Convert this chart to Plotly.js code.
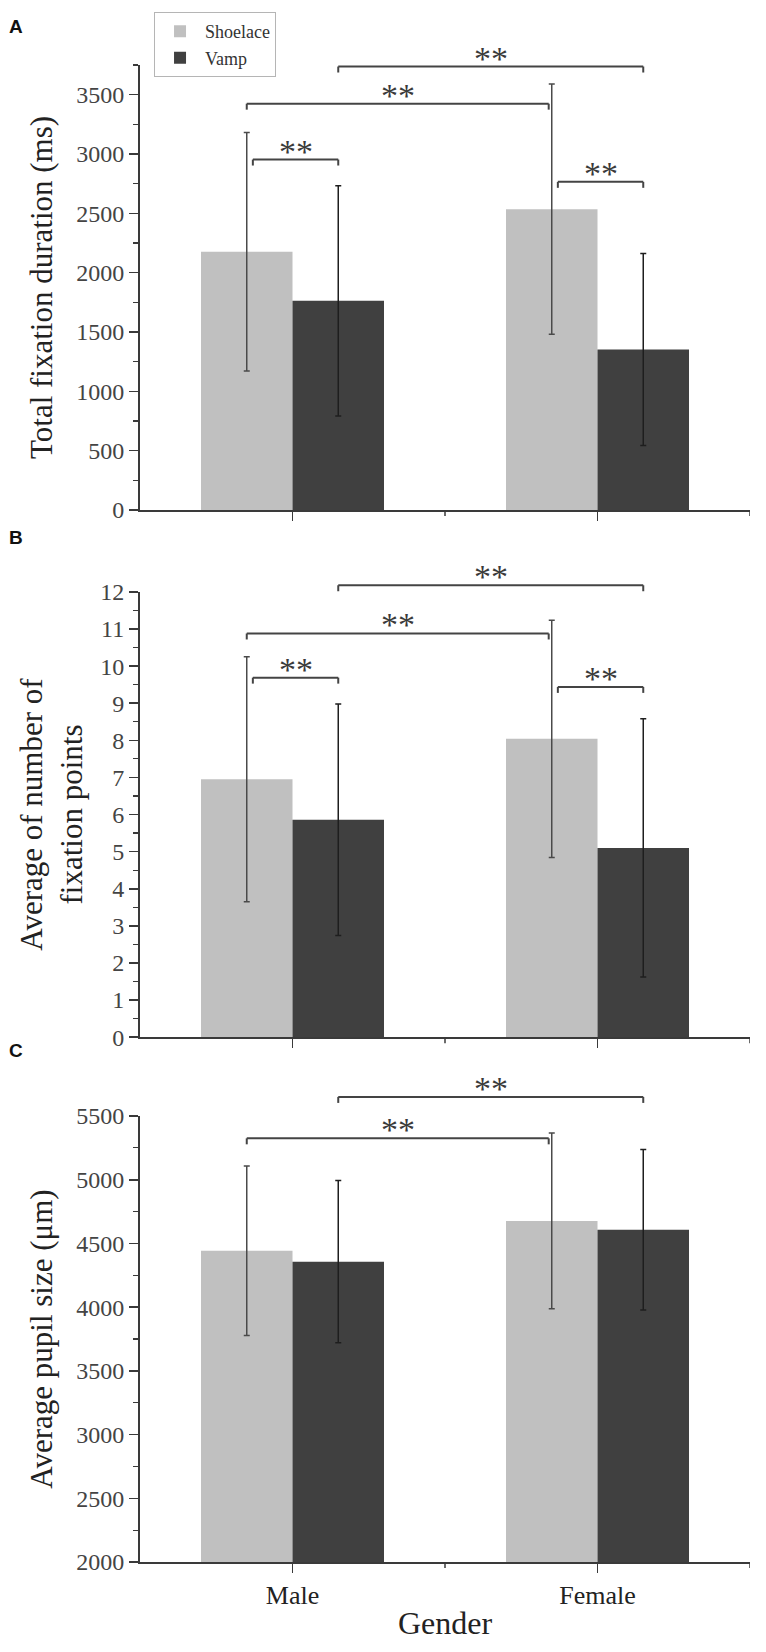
<!DOCTYPE html>
<html>
<head>
<meta charset="utf-8">
<script src="https://cdn.plot.ly/plotly-3.0.1.min.js"></script>
<style>html,body{margin:0;padding:0;background:#fff;}</style>
</head>
<body>
<div id="chart" style="width:766px;height:1652px;"></div>
<script>
// ---------- data ----------
const categories = ['Male', 'Female'];
const seriesNames = ['Shoelace', 'Vamp'];

// Panel A: total fixation duration (ms)
const durShoelace = [2176, 2535];
const durShoelaceSD = [1005, 1055];
const durVamp = [1762, 1352];
const durVampSD = [970, 810];

// Panel B: average number of fixation points
const fixShoelace = [6.95, 8.04];
const fixShoelaceSD = [3.3, 3.2];
const fixVamp = [5.86, 5.10];
const fixVampSD = [3.12, 3.48];

// Panel C: average pupil size (µm)
const pupilShoelace = [4443, 4677];
const pupilShoelaceSD = [665, 689];
const pupilVamp = [4357, 4607];
const pupilVampSD = [637, 630];

// Significance brackets: [category, series] of each end, bracket level (data units), label
const sigA = [
  {a: [0, 0], b: [0, 1], level: 2953, label: '**'},
  {a: [0, 0], b: [1, 0], level: 3424, label: '**'},
  {a: [0, 1], b: [1, 1], level: 3737, label: '**'},
  {a: [1, 0], b: [1, 1], level: 2765, label: '**'}
];
const sigB = [
  {a: [0, 0], b: [0, 1], level: 9.69, label: '**'},
  {a: [0, 0], b: [1, 0], level: 10.88, label: '**'},
  {a: [0, 1], b: [1, 1], level: 12.18, label: '**'},
  {a: [1, 0], b: [1, 1], level: 9.44, label: '**'}
];
const sigC = [
  {a: [0, 0], b: [1, 0], level: 5325, label: '**'},
  {a: [0, 1], b: [1, 1], level: 5650, label: '**'}
];

// ---------- style ----------
const LIGHT = '#c0c0c0';
const DARK = '#404040';
const AXC = '#3a3a3a';
const SERIF = 'Liberation Serif, Times New Roman, serif';
const groupOffset = 0.15;   // half of bar width in category units (bargap 0.4)
const dropPx = 6;
const panelPx = 447;

const panels = [
  {xa: 'x', ya: 'y', dom: [0.7028, 1.0], range: [0, 3750], dtick: 500, minor: 250,
   title: 'Total fixation duration (ms)', data: [durShoelace, durShoelaceSD, durVamp, durVampSD], sig: sigA, letter: 'A', letterY: 1.026},
  {xa: 'x2', ya: 'y2', dom: [0.3506, 0.648], range: [0, 12], dtick: 1, minor: 0.5,
   title: 'Average of number of<br>fixation points', data: [fixShoelace, fixShoelaceSD, fixVamp, fixVampSD], sig: sigB, letter: 'B', letterY: 0.6846},
  {xa: 'x3', ya: 'y3', dom: [0.0, 0.2979], range: [2000, 5500], dtick: 500, minor: 250,
   title: 'Average pupil size (μm)', data: [pupilShoelace, pupilShoelaceSD, pupilVamp, pupilVampSD], sig: sigC, letter: 'C', letterY: 0.3419}
];

const traces = [];
const shapes = [];
const annotations = [];
const layout = {
  width: 766, height: 1652,
  margin: {l: 140, r: 16, t: 59, b: 90},
  paper_bgcolor: '#ffffff', plot_bgcolor: '#ffffff',
  barmode: 'group', bargap: 0.4, bargroupgap: 0,
  font: {family: SERIF, color: '#333'},
  showlegend: true,
  legend: {
    x: 0.023, y: 1.0353, xanchor: 'left', yanchor: 'top',
    bgcolor: '#ffffff', bordercolor: '#b5b5b5', borderwidth: 1,
    font: {family: SERIF, size: 18, color: '#333'},
    tracegroupgap: 0, itemwidth: 40
  }
};

panels.forEach((p, i) => {
  const sfx = i === 0 ? '' : String(i + 1);
  const [sv, sd, vv, vd] = p.data;
  const colors = [LIGHT, DARK];
  [[sv, sd], [vv, vd]].forEach((d, s) => {
    traces.push({
      type: 'bar', name: seriesNames[s], x: categories, y: d[0],
      xaxis: p.xa, yaxis: p.ya,
      marker: {color: colors[s], line: {width: 0}},
      error_y: {type: 'data', array: d[1], visible: true, color: s === 0 ? '#4a4a4a' : '#1e1e1e', thickness: 1.5, width: 3},
      showlegend: i === 0, legendgroup: seriesNames[s],
      hoverinfo: 'x+y'
    });
  });
  layout['xaxis' + sfx] = {
    domain: [0, 1], anchor: p.ya, type: 'category', range: [-0.5, 1.5],
    showline: true, linecolor: AXC, linewidth: 2,
    ticks: 'outside', ticklen: 9, tickwidth: 1.5, tickcolor: AXC,
    showticklabels: i === 2, showgrid: false, zeroline: false,
    tickfont: {family: SERIF, size: 26, color: '#222'},
    title: i === 2 ? {text: 'Gender', font: {family: SERIF, size: 32, color: '#222'}, standoff: 2} : {text: ''}
  };
  layout['yaxis' + sfx] = {
    domain: p.dom, anchor: p.xa, range: p.range, dtick: p.dtick,
    showline: true, linecolor: AXC, linewidth: 2,
    ticks: 'outside', ticklen: 9, tickwidth: 1.5, tickcolor: AXC,
    minor: {dtick: p.minor, ticks: 'outside', ticklen: 5, tickwidth: 1.2, tickcolor: AXC, showgrid: false},
    showgrid: false, zeroline: false,
    tickfont: {family: SERIF, size: 24, color: '#444'},
    title: {text: p.title, font: {family: SERIF, size: 31, color: '#222'}, standoff: i === 1 ? 8 : 14}
  };
  // minor x ticks between categories and at the axis end
  [0.5, 1.5].forEach(xv => {
    shapes.push({type: 'line', xref: p.xa, yref: p.ya + ' domain', x0: xv, x1: xv,
      ysizemode: 'pixel', yanchor: 0, y0: 0, y1: -6, line: {color: AXC, width: 1.5}});
  });
  // significance brackets
  const span = p.range[1] - p.range[0];
  const drop = dropPx / panelPx;
  p.sig.forEach(b => {
    const xA = b.a[0] + (b.a[1] === 0 ? -groupOffset : groupOffset) + (b.a[0] === b.b[0] ? 0.02 : 0);
    const xB = b.b[0] + (b.b[1] === 0 ? -groupOffset : groupOffset) - (b.b[1] === 0 ? 0.01 : 0);
    const f = (b.level - p.range[0]) / span;
    const yref = p.ya + ' domain';
    const ln = {color: '#444', width: 2};
    shapes.push({type: 'line', xref: p.xa, yref: yref, x0: xA, x1: xB, y0: f, y1: f, line: ln});
    shapes.push({type: 'line', xref: p.xa, yref: yref, x0: xA, x1: xA, y0: f, y1: f - drop, line: ln});
    shapes.push({type: 'line', xref: p.xa, yref: yref, x0: xB, x1: xB, y0: f, y1: f - drop, line: ln});
    annotations.push({
      xref: p.xa, yref: yref, x: (xA + xB) / 2, y: f, text: b.label, showarrow: false,
      xanchor: 'center', yanchor: 'bottom', yshift: -12,
      font: {family: SERIF, size: 34, color: '#3a3a3a'}
    });
  });
  annotations.push({
    xref: 'paper', yref: 'paper', x: -0.203, y: p.letterY, text: '<b>' + p.letter + '</b>',
    showarrow: false, xanchor: 'center', yanchor: 'middle',
    font: {family: 'Liberation Sans, Arial, sans-serif', size: 19, color: '#111'}
  });
});

layout.shapes = shapes;
layout.annotations = annotations;

Plotly.newPlot('chart', traces, layout, {displayModeBar: false, staticPlot: true});
</script>
</body>
</html>
